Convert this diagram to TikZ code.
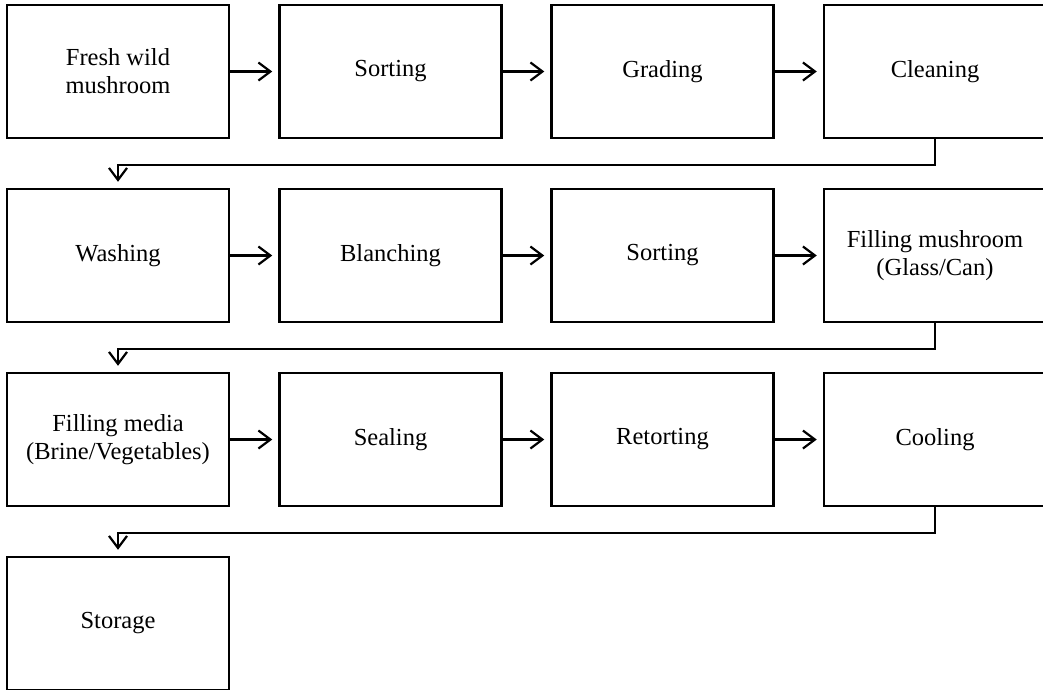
\documentclass[tikz,border=0pt]{standalone}
\usepackage{fontspec}
\setmainfont{Liberation Serif}
\usetikzlibrary{arrows.meta}
\begin{document}
\begin{tikzpicture}[x=1pt,y=-1pt,
  stage/.style={draw, line width=2.5pt, minimum width=222pt, minimum height=133pt,
    inner sep=0pt, align=center, font=\fontsize{24.5}{28}\selectfont},
  flow/.style={line width=2.2pt,
    -{Straight Barb[length=12pt,width=18pt,line width=2.2pt]}, shorten >=6pt}]
  \useasboundingbox (0,0) rectangle (1043,689);
  \clip (0,0) rectangle (1043,689);
  \fill[white] (0,0) rectangle (1043,689);

  % process stages, four per row
  \node[stage] (b1)  at (118,71.5)   {Fresh wild\\mushroom};
  \node[stage] (b2)  at (390.5,71.5) {Sorting};
  \node[stage] (b3)  at (662.5,71.5) {Grading};
  \node[stage] (b4)  at (935,71.5)   {Cleaning};

  \node[stage] (b5)  at (118,255.5)   {Washing};
  \node[stage] (b6)  at (390.5,255.5) {Blanching};
  \node[stage] (b7)  at (662.5,255.5) {Sorting};
  \node[stage] (b8)  at (935,255.5)   {Filling mushroom\\(Glass/Can)};

  \node[stage] (b9)  at (118,439.5)   {Filling media\\(Brine/Vegetables)};
  \node[stage] (b10) at (390.5,439.5) {Sealing};
  \node[stage] (b11) at (662.5,439.5) {Retorting};
  \node[stage] (b12) at (935,439.5)   {Cooling};

  \node[stage] (b13) at (118,623.5) {Storage};

  % arrows along each row
  \draw[flow] (b1.east) -- (b2.west);
  \draw[flow] (b2.east) -- (b3.west);
  \draw[flow] (b3.east) -- (b4.west);
  \draw[flow] (b5.east) -- (b6.west);
  \draw[flow] (b6.east) -- (b7.west);
  \draw[flow] (b7.east) -- (b8.west);
  \draw[flow] (b9.east) -- (b10.west);
  \draw[flow] (b10.east) -- (b11.west);
  \draw[flow] (b11.east) -- (b12.west);

  % return lines to the start of the next row
  \draw[flow] (b4.south) -- ++(0,25.5) -| (b5.north);
  \draw[flow] (b8.south) -- ++(0,25.5) -| (b9.north);
  \draw[flow] (b12.south) -- ++(0,25.5) -| (b13.north);
\end{tikzpicture}
\end{document}
